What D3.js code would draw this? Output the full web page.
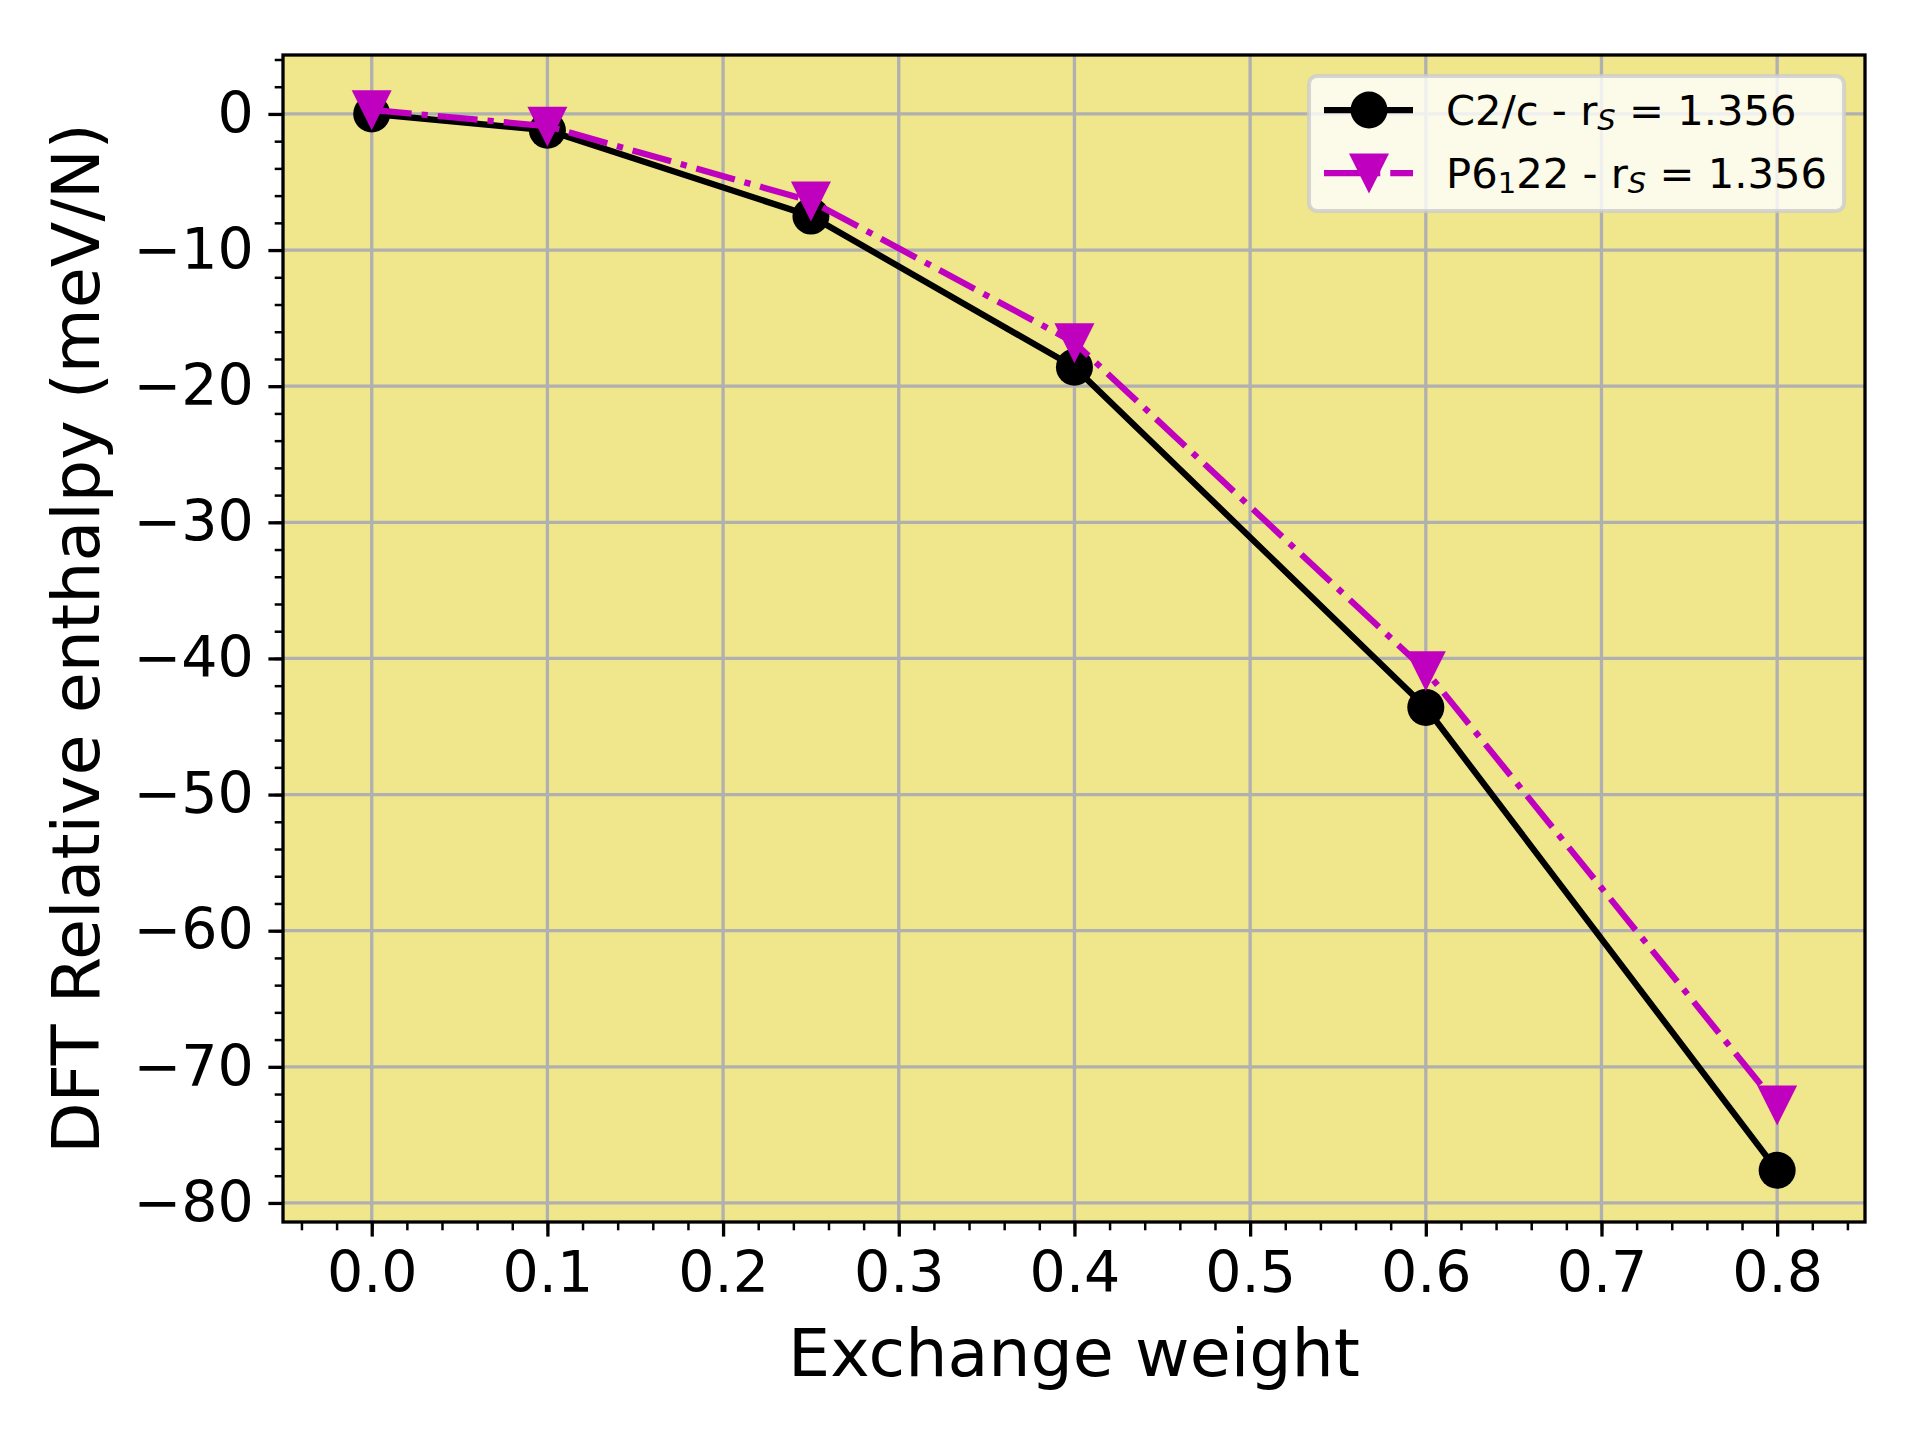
<!DOCTYPE html>
<html>
<head>
<meta charset="utf-8">
<script src="https://cdn.jsdelivr.net/npm/d3@7"></script>
<style>
  body { margin: 0; background: #fff; }
  svg { display: block; font-family: "DejaVu Sans", sans-serif; }
</style>
</head>
<body>
<div id="chart"></div>
<script>
// data
const exchangeWeights = [0, 0.1, 0.25, 0.4, 0.6, 0.8];
const c2cEnthalpy = [0, -1.2, -7.5, -18.6, -43.6, -77.6];
const p6122Enthalpy = [0.3, -0.9, -6.4, -16.8, -40.9, -72.8];
const xTicks = [0, 0.1, 0.2, 0.3, 0.4, 0.5, 0.6, 0.7, 0.8];
const yTicks = [0, -10, -20, -30, -40, -50, -60, -70, -80];

const width = 1920, height = 1440;
const plotLeft = 283, plotRight = 1865, plotTop = 55, plotBottom = 1222;

const svg = d3.select("#chart").append("svg")
    .attr("width", width)
    .attr("height", height);

const x = d3.scaleLinear().domain([-0.0505, 0.85]).range([plotLeft, plotRight]);
const y = d3.scaleLinear().domain([-81.4, 4.33]).range([plotBottom, plotTop]);

svg.append("rect")
    .attr("x", plotLeft).attr("y", plotTop)
    .attr("width", plotRight - plotLeft).attr("height", plotBottom - plotTop)
    .attr("fill", "#f0e68c");

// grid
svg.append("g").selectAll("line").data(xTicks).enter().append("line")
    .attr("x1", d => x(d)).attr("x2", d => x(d))
    .attr("y1", plotTop).attr("y2", plotBottom)
    .attr("stroke", "#b0b0b0").attr("stroke-width", 3.3);
svg.append("g").selectAll("line").data(yTicks).enter().append("line")
    .attr("x1", plotLeft).attr("x2", plotRight)
    .attr("y1", d => y(d)).attr("y2", d => y(d))
    .attr("stroke", "#b0b0b0").attr("stroke-width", 3.3);

// axes
const fmtX = d3.format(".1f");
const xAxis = d3.axisBottom(x).tickValues(xTicks).tickFormat(fmtX)
    .tickSize(14.6).tickPadding(14.6);
const yAxis = d3.axisLeft(y).tickValues(yTicks)
    .tickFormat(d => (d < 0 ? "\u2212" + Math.abs(d) : "" + d))
    .tickSize(14.6).tickPadding(14.6);

const xMinor = d3.range(-4, 43).map(i => i * 0.02).filter(v => v >= -0.05 && v <= 0.85);
const yMinor = d3.range(-40, 3).map(i => i * 2);

svg.append("g")
    .attr("transform", "translate(0," + plotBottom + ")")
    .call(d3.axisBottom(x).tickValues(xMinor).tickSize(8.3).tickFormat(""))
    .call(g => g.select(".domain").remove())
    .call(g => g.selectAll("line").attr("stroke-width", 2.5));
svg.append("g")
    .attr("transform", "translate(" + plotLeft + ",0)")
    .call(d3.axisLeft(y).tickValues(yMinor).tickSize(8.3).tickFormat(""))
    .call(g => g.select(".domain").remove())
    .call(g => g.selectAll("line").attr("stroke-width", 2.5));

svg.append("g")
    .attr("transform", "translate(0," + plotBottom + ")")
    .call(xAxis)
    .call(g => g.select(".domain").remove())
    .call(g => g.selectAll("line").attr("stroke-width", 3.3))
    .call(g => g.selectAll("text").attr("font-size", 57).attr("font-family", "DejaVu Sans").attr("fill", "#000"));
svg.append("g")
    .attr("transform", "translate(" + plotLeft + ",0)")
    .call(yAxis)
    .call(g => g.select(".domain").remove())
    .call(g => g.selectAll("line").attr("stroke-width", 3.3))
    .call(g => g.selectAll("text").attr("font-size", 57).attr("font-family", "DejaVu Sans").attr("fill", "#000"));

// lines
const c2c = exchangeWeights.map((w, i) => [w, c2cEnthalpy[i]]);
const p6 = exchangeWeights.map((w, i) => [w, p6122Enthalpy[i]]);
const line = d3.line().x(d => x(d[0])).y(d => y(d[1]));

svg.append("path").datum(c2c)
    .attr("d", line).attr("fill", "none")
    .attr("stroke", "#000").attr("stroke-width", 6.25)
    .attr("stroke-linejoin", "round");
svg.append("g").selectAll("circle").data(c2c).enter().append("circle")
    .attr("cx", d => x(d[0])).attr("cy", d => y(d[1])).attr("r", 18.5)
    .attr("fill", "#000");

svg.append("path").datum(p6)
    .attr("d", line).attr("fill", "none")
    .attr("stroke", "#bf00bf").attr("stroke-width", 6.25)
    .attr("stroke-dasharray", "40,10,6.25,10");
const tri = "M-20,-19.5L20,-19.5L0,20.5Z";
svg.append("g").selectAll("path").data(p6).enter().append("path")
    .attr("transform", d => "translate(" + x(d[0]) + "," + y(d[1]) + ")")
    .attr("d", tri).attr("fill", "#bf00bf");

// spines
svg.append("rect")
    .attr("x", plotLeft).attr("y", plotTop)
    .attr("width", plotRight - plotLeft).attr("height", plotBottom - plotTop)
    .attr("fill", "none").attr("stroke", "#000").attr("stroke-width", 3.3);

// axis labels
svg.append("text")
    .attr("x", (plotLeft + plotRight) / 2).attr("y", 1376)
    .attr("text-anchor", "middle").attr("font-size", 66.7)
    .text("Exchange weight");
svg.append("text")
    .attr("transform", "translate(99," + (plotTop + plotBottom) / 2 + ") rotate(-90)")
    .attr("text-anchor", "middle").attr("font-size", 66.7)
    .text("DFT Relative enthalpy (meV/N)");

// legend
const lg = svg.append("g");
lg.append("rect")
    .attr("x", 1309).attr("y", 76).attr("width", 535).attr("height", 135)
    .attr("rx", 8).attr("ry", 8)
    .attr("fill", "rgba(255,255,255,0.8)")
    .attr("stroke", "rgba(204,204,204,0.8)").attr("stroke-width", 4);

lg.append("line").attr("x1", 1324).attr("x2", 1413).attr("y1", 110).attr("y2", 110)
    .attr("stroke", "#000").attr("stroke-width", 6.25);
lg.append("circle").attr("cx", 1369).attr("cy", 110).attr("r", 18.5).attr("fill", "#000");

lg.append("line").attr("x1", 1324).attr("x2", 1413).attr("y1", 173).attr("y2", 173)
    .attr("stroke", "#bf00bf").attr("stroke-width", 6.25)
    .attr("stroke-dasharray", "40,10,6.25,10");
lg.append("path").attr("transform", "translate(1369,173)").attr("d", tri).attr("fill", "#bf00bf");

const t1 = lg.append("text").attr("x", 1446).attr("y", 125).attr("font-size", 41.7);
t1.append("tspan").text("C2/c - r");
t1.append("tspan").attr("font-size", 29).attr("font-style", "italic").attr("dy", 5).text("S");
t1.append("tspan").attr("dy", -5).text(" = 1.356");

const t2 = lg.append("text").attr("x", 1446).attr("y", 188).attr("font-size", 41.7);
t2.append("tspan").text("P6");
t2.append("tspan").attr("font-size", 29).attr("dy", 5).text("1");
t2.append("tspan").attr("dy", -5).text("22 - r");
t2.append("tspan").attr("font-size", 29).attr("font-style", "italic").attr("dy", 5).text("S");
t2.append("tspan").attr("dy", -5).text(" = 1.356");
</script>
</body>
</html>
